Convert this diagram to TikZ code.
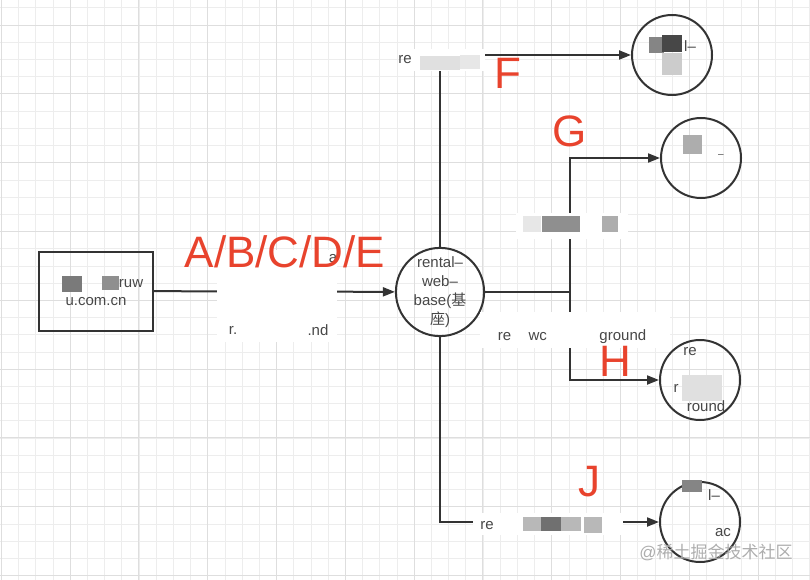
\documentclass[tikz,border=0pt]{standalone}
\usepackage{fontspec}
\setmainfont{Liberation Sans}
\newfontfamily\cjk{Noto Sans CJK SC}
\usetikzlibrary{arrows.meta, calc}
\definecolor{ink}{HTML}{333333}
\definecolor{mark}{HTML}{E8432D}
\definecolor{gridminor}{HTML}{EDEDED}
\definecolor{gridmajor}{HTML}{DEDEDE}

\begin{document}
\begin{tikzpicture}[x=1pt, y=-1pt,
	every node/.style={font=\fontsize{15}{19}\selectfont, text=ink!90},
	box/.style={draw=ink, line width=2pt, minimum width=114pt, minimum height=79pt, inner sep=0pt},
	svc/.style={draw=ink, circle, line width=2pt, minimum size=80pt, inner sep=0pt, align=center},
	link/.style={draw=ink, line width=2pt, -{Triangle[length=12pt, width=9pt]}},
	wire/.style={draw=ink, line width=2pt},
	patch/.style={fill=white, draw=none, inner sep=0pt},
	blur/.style={fill=#1, draw=none, inner sep=0pt},
	letter/.style={text=mark, font=\fontsize{44}{44}\selectfont}]
	\useasboundingbox (0,0) rectangle (810,580);
	% grid
	\foreach \i in {0,...,47} {
		\draw[gridminor, line width=0.6pt] ({1.2+17.2*\i},0) -- ({1.2+17.2*\i},580);
	}
	\foreach \j in {0,...,33} {
		\draw[gridminor, line width=0.6pt] (0,{7.8+17.2*\j}) -- (810,{7.8+17.2*\j});
	}
	\foreach \i in {0,...,11} {
		\draw[gridmajor, line width=0.8pt] ({1.2+68.8*\i},0) -- ({1.2+68.8*\i},580);
	}
	\foreach \j in {0,...,8} {
		\draw[gridmajor, line width=0.8pt] (0,{25+68.8*\j}) -- (810,{25+68.8*\j});
	}

	% nodes
	\node[box] (src) at (96,291) {};
	\node[svc] (base) at (440,292) {rental–\\web–\\base({\cjk 基}\\{\cjk 座})};
	\node[svc] (f) at (672,55) {};
	\node[svc] (g) at (701,158) {};
	\node[svc] (h) at (700,380) {};
	\node[svc] (j) at (700,522) {};
	\coordinate (split) at (570,292);

	% connectors
	\draw[link] (src) -- (base);
	\draw[link] (base) |- (f);
	\draw[wire] (base) -- (split);
	\draw[link] (split) |- (g);
	\draw[link] (split) |- (h);
	\draw[link] (base) |- (j);

	% label patches
	\node[patch, minimum width=120pt, minimum height=92pt] (lab1) at (277,296) {};
	\node[patch, minimum width=78pt, minimum height=22pt] (lab2) at (446,60) {};
	\node[patch, minimum width=112pt, minimum height=26pt] (lab3) at (572,226) {};
	\node[patch, minimum width=190pt, minimum height=36pt] (lab4) at (575,330) {};
	\node[patch, minimum width=150pt, minimum height=22pt] (lab5) at (548,524) {};

	% text inside source box
	\node[blur=ink!65, minimum width=20pt, minimum height=16pt] (s1) at (72,284) {};
	\node[blur=ink!55, minimum width=17pt, minimum height=14pt] (s2) at (110,283) {};
	\node (s3) at (131,284) {ruw};
	\node (s4) at (96,302) {u.com.cn};

	% edge label fragments
	\node (t1) at (333,259) {a};
	\node (t2) at (233,330) {r.};
	\node (t3) at (318,330) {.nd};
	\node (t4) at (405,60) {re};
	\node[blur=ink!15, minimum width=40pt, minimum height=14pt] (t5) at (440,63) {};
	\node[blur=ink!12, minimum width=20pt, minimum height=14pt] (t6) at (470,62) {};
	\node[blur=ink!12, minimum width=18pt, minimum height=16pt] (t7) at (532,224) {};
	\node[blur=ink!55, minimum width=38pt, minimum height=16pt] (t8) at (561,224) {};
	\node[blur=ink!40, minimum width=16pt, minimum height=16pt] (t9) at (610,224) {};
	\node (t10) at (572,337) {re\,\,\,\,\,\,\,wc\,\,\,\,\,\,\,\,\,\,\,\,\,\,\,\,\,\,\,\,\,ground};
	\node (t11) at (487,526) {re};
	\node[blur=ink!35, minimum width=18pt, minimum height=14pt] (t12) at (532,524) {};
	\node[blur=ink!70, minimum width=20pt, minimum height=14pt] (t13) at (551,524) {};
	\node[blur=ink!35, minimum width=20pt, minimum height=14pt] (t14) at (571,524) {};
	\node[blur=ink!35, minimum width=18pt, minimum height=16pt] (t15) at (593,525) {};

	% text inside target circles
	\node[blur=ink!60, minimum width=15pt, minimum height=16pt] (f1) at (656,45) {};
	\node[blur=ink!90, minimum width=20pt, minimum height=17pt] (f2) at (672,44) {};
	\node[blur=ink!25, minimum width=20pt, minimum height=22pt] (f3) at (672,64) {};
	\node (f4) at (690,46) {l–};
	\node[blur=ink!40, minimum width=19pt, minimum height=19pt] (g1) at (692,145) {};
	\node (g2) at (721,156) {\fontsize{10}{10}\selectfont –};
	\node (h1) at (690,352) {re};
	\node (h2) at (676,388) {r};
	\node[blur=ink!15, minimum width=40pt, minimum height=26pt] (h3) at (702,388) {};
	\node (h4) at (706,406) {round};
	\node[blur=ink!60, minimum width=20pt, minimum height=12pt] (j1) at (692,486) {};
	\node (j2) at (714,495) {l–};
	\node (j3) at (723,533) {ac};

	% step letters
	\node[letter] (ae) at (285,252) {A/B/C/D/E};
	\node[letter] (lf) at (508,73) {F};
	\node[letter] (lg) at (570,131) {G};
	\node[letter] (lh) at (615,361) {H};
	\node[letter] (lj) at (589,482) {J};

	% watermark
	\node[text=ink!40, font=\fontsize{17}{17}\selectfont] (wm) at (716,552) {@{\cjk 稀土掘金技术社区}};
\end{tikzpicture}
\end{document}
